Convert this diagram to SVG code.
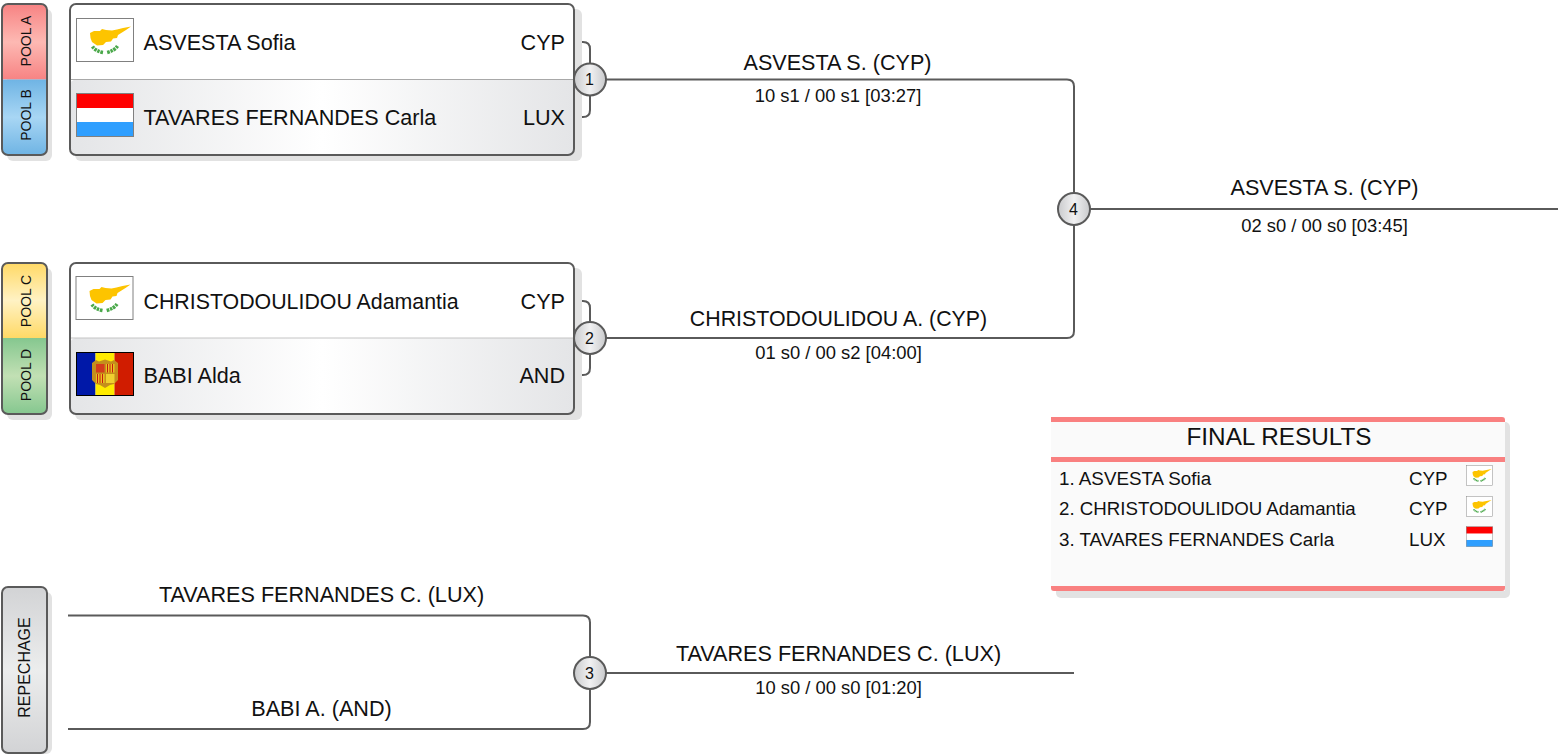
<svg xmlns="http://www.w3.org/2000/svg" xmlns:xlink="http://www.w3.org/1999/xlink" width="1558" height="754" viewBox="0 0 1558 754">
<style>
text{font-family:"Liberation Sans",Arial,sans-serif;fill:#111}
.n{font-size:21.600px}
.s{font-size:18.400px;text-anchor:middle}
.l{font-size:21.600px;text-anchor:middle}
.ch{font-size:21.350px}
.r{font-size:18.800px}
.t{font-size:14px;text-anchor:middle}
.b{font-size:16px;text-anchor:middle}
.v{font-size:16px;text-anchor:middle}
.sh{fill:#e2e2e2}
.o{fill:none;stroke:#5a5a5a;stroke-width:2}
.c{fill:none;stroke:#5a5a5a;stroke-width:2}
.f{fill:none;stroke:#808080;stroke-width:1}
</style>
<defs>
<linearGradient id="ga" x1="0" y1="0" x2="0" y2="1"><stop offset="0" stop-color="#f78383"/><stop offset=".5" stop-color="#fdb9b3"/><stop offset="1" stop-color="#f78383"/></linearGradient>
<linearGradient id="gb" x1="0" y1="0" x2="0" y2="1"><stop offset="0" stop-color="#6fb4e4"/><stop offset=".5" stop-color="#a8d6f4"/><stop offset="1" stop-color="#6fb4e4"/></linearGradient>
<linearGradient id="gc" x1="0" y1="0" x2="0" y2="1"><stop offset="0" stop-color="#ffd966"/><stop offset=".5" stop-color="#fff2c4"/><stop offset="1" stop-color="#ffd966"/></linearGradient>
<linearGradient id="gd" x1="0" y1="0" x2="0" y2="1"><stop offset="0" stop-color="#85c78f"/><stop offset=".5" stop-color="#c2e0b4"/><stop offset="1" stop-color="#85c78f"/></linearGradient>
<linearGradient id="gr" x1="0" y1="0" x2="0" y2="1"><stop offset="0" stop-color="#d2d3d5"/><stop offset=".5" stop-color="#eceded"/><stop offset="1" stop-color="#d2d3d5"/></linearGradient>
<linearGradient id="gl" x1="0" y1="0" x2="1" y2="0"><stop offset="0" stop-color="#e4e5e7"/><stop offset=".5" stop-color="#ffffff"/><stop offset="1" stop-color="#e4e5e7"/></linearGradient>
<linearGradient id="gk" x1="0" y1="0" x2="1" y2="0"><stop offset="0" stop-color="#c9cacc"/><stop offset=".5" stop-color="#f1f1f2"/><stop offset="1" stop-color="#c9cacc"/></linearGradient>
<g id="cy">
<rect x="0.500" y="0.500" width="57" height="43" fill="#fff" stroke="#808080"/>
<path d="M14 15L18 13L24 13L26 11L30 12L36 12.500L41 11.500L47 10L55 8.500L50 12L46 14.500L42 17L41 20L37 20.500L35 23.500L30 24L27 27L21 27.500L16 24L14.500 20Z" fill="#fdc400"/>
<path d="M16.500 28.500c1.500 2.500 5 5 10.500 6M41.500 28c-1.500 2.500-5 5-10.500 6.500" fill="none" stroke="#4aa84a" stroke-width="3.500" stroke-dasharray="2.500 .8"/>
</g>
<g id="lu">
<rect x="0" y="0" width="58" height="44" fill="#fff"/>
<rect x="0.500" y="0.500" width="57" height="14.500" fill="#ff0000"/>
<rect x="0.500" y="29" width="57" height="14.500" fill="#2f9fff"/>
<rect x="0.500" y="0.500" width="57" height="43" class="f"/>
</g>
<g id="ad">
<rect x="0.500" y="0.500" width="19" height="43" fill="#0018a8"/>
<rect x="19.500" y="0.500" width="19" height="43" fill="#ffeb00"/>
<rect x="38.500" y="0.500" width="19" height="43" fill="#d01c00"/>
<path d="M16 11l4-3 3 1.500 6-2 6 2 3-1.500 4 3v17l-4 4-4 1-5 3-5-3-4-1-4-4z" fill="#c48f1c"/>
<rect x="20" y="12" width="8.500" height="8.500" fill="#d43c1c"/>
<rect x="30" y="12" width="8.500" height="8.500" fill="#ecc020"/>
<path d="M31.500 12v8.500M34 12v8.500M36.500 12v8.500" stroke="#c41c10" fill="none"/>
<rect x="20" y="22" width="8.500" height="9" fill="#ecc020"/>
<path d="M21.500 22v9M24 22v9M26.500 22v9" stroke="#c41c10" fill="none"/>
<rect x="30" y="22" width="8.500" height="9" fill="#f0d030"/>
<rect x="0.500" y="0.500" width="57" height="43" fill="none" stroke="#000"/>
</g>
</defs>

<g id="connectors">
<path class="c" d="M574 42h9q7 0 7 7v61q0 7-7 7h-9"/>
<path class="c" d="M590 79.500H1067q7 0 7 7V331q0 7-7 7H590"/>
<path class="c" d="M574 301h9q7 0 7 7v60q0 7-7 7h-9"/>
<path class="c" d="M1074 209H1558"/>
<path class="c" d="M68 615.500H583q7 0 7 7V722q0 7-7 7H68"/>
<path class="c" d="M590 673H1074"/>
</g>

<g id="pool-ab">
<rect class="sh" x="7" y="9" width="45" height="152" rx="6"/>
<path d="M2.500 79.500V10.500q0-6 6-6H41q6 0 6 6V79.500z" fill="url(#ga)"/>
<path d="M2.500 79.500V149q0 6 6 6H41q6 0 6-6V79.500z" fill="url(#gb)"/>
<rect class="o" x="2" y="4" width="45" height="151" rx="6"/>
<text class="t" transform="translate(31 41) rotate(-90)">POOL A</text>
<text class="t" transform="translate(31 115) rotate(-90)">POOL B</text>
</g>
<g id="match-1">
<rect class="sh" x="75" y="9" width="507" height="152" rx="6"/>
<rect x="70" y="4" width="504" height="75.500" fill="#fff"/>
<rect x="70" y="79.500" width="504" height="75.500" rx="6" fill="url(#gl)"/>
<path d="M70 79.500h504" stroke="#a8a8a8"/>
<rect class="o" x="70" y="4" width="504" height="151" rx="6"/>
<use xlink:href="#cy" href="#cy" x="76" y="18"/>
<use xlink:href="#lu" href="#lu" x="76" y="93"/>
<text class="n" x="143.500" y="49.500">ASVESTA Sofia</text>
<text class="n" x="143.500" y="124.500">TAVARES FERNANDES Carla</text>
<text class="n" x="565" y="49.500" text-anchor="end">CYP</text>
<text class="n" x="565" y="124.500" text-anchor="end">LUX</text>
</g>
<g id="pool-cd">
<rect class="sh" x="7" y="268" width="45" height="152" rx="6"/>
<path d="M2.500 338V269q0-6 6-6H41q6 0 6 6V338z" fill="url(#gc)"/>
<path d="M2.500 338V408q0 6 6 6H41q6 0 6-6V338z" fill="url(#gd)"/>
<rect class="o" x="2" y="263" width="45" height="151" rx="6"/>
<text class="t" transform="translate(31 301) rotate(-90)">POOL C</text>
<text class="t" transform="translate(31 375) rotate(-90)">POOL D</text>
</g>
<g id="match-2">
<rect class="sh" x="75" y="268" width="507" height="152" rx="6"/>
<rect x="70" y="263" width="504" height="75" fill="#fff"/>
<rect x="70" y="338" width="504" height="76" rx="6" fill="url(#gl)"/>
<path d="M70 338h504" stroke="#c4c4c4"/>
<rect class="o" x="70" y="263" width="504" height="151" rx="6"/>
<use xlink:href="#cy" href="#cy" x="75.500" y="276"/>
<use xlink:href="#ad" href="#ad" x="76" y="352"/>
<text class="n ch" x="143.500" y="308.500">CHRISTODOULIDOU Adamantia</text>
<text class="n" x="143.500" y="382.500">BABI Alda</text>
<text class="n" x="565" y="308.500" text-anchor="end">CYP</text>
<text class="n" x="565" y="382.500" text-anchor="end">AND</text>
</g>
<g id="repechage">
<rect class="sh" x="7" y="592" width="45" height="162" rx="6"/>
<rect x="2" y="587" width="45" height="166" rx="6" fill="url(#gr)" stroke="#5a5a5a" stroke-width="2"/>
<text class="v" transform="translate(30 667.500) rotate(-90)">REPECHAGE</text>
</g>

<g id="bout-1"><circle cx="590" cy="79.500" r="16" fill="url(#gk)" stroke="#5a5a5a" stroke-width="2"/><text class="b" x="589.500" y="85">1</text></g>
<g id="bout-2"><circle cx="590" cy="338" r="16" fill="url(#gk)" stroke="#5a5a5a" stroke-width="2"/><text class="b" x="589.500" y="343.500">2</text></g>
<g id="bout-3"><circle cx="590" cy="673" r="16" fill="url(#gk)" stroke="#5a5a5a" stroke-width="2"/><text class="b" x="589.500" y="678.500">3</text></g>
<g id="bout-4"><circle cx="1074" cy="209" r="16" fill="url(#gk)" stroke="#5a5a5a" stroke-width="2"/><text class="b" x="1073.500" y="214.500">4</text></g>

<g id="labels">
<text class="l" x="837.500" y="70">ASVESTA S. (CYP)</text>
<text class="s" x="838" y="102">10 s1 / 00 s1 [03:27]</text>
<text class="l ch" x="838.500" y="326">CHRISTODOULIDOU A. (CYP)</text>
<text class="s" x="838.500" y="359">01 s0 / 00 s2 [04:00]</text>
<text class="l" x="1324.500" y="195">ASVESTA S. (CYP)</text>
<text class="s" x="1324.500" y="232">02 s0 / 00 s0 [03:45]</text>
<text class="l" x="321.500" y="602">TAVARES FERNANDES C. (LUX)</text>
<text class="l" x="321.500" y="716">BABI A. (AND)</text>
<text class="l" x="838.500" y="661">TAVARES FERNANDES C. (LUX)</text>
<text class="s" x="838.500" y="694">10 s0 / 00 s0 [01:20]</text>
</g>

<g id="final-results">
<rect class="sh" x="1056" y="422" width="454" height="176" rx="5"/>
<rect x="1051" y="417" width="454" height="174" fill="#fafafa"/>
<path d="M1051 417h451q3 0 3 3v2h-454zM1051 457h454v5h-454zM1051 586h454v2q0 3-3 3H1054q-3 0-3-3z" fill="#f98080"/>
<text x="1279" y="445" font-size="24.300" text-anchor="middle">FINAL RESULTS</text>
<text class="r" x="1059" y="485">1. ASVESTA Sofia</text>
<text class="r" x="1059" y="515" style="font-size:18.700px">2. CHRISTODOULIDOU Adamantia</text>
<text class="r" x="1059" y="546">3. TAVARES FERNANDES Carla</text>
<text class="r" x="1409" y="485">CYP</text>
<text class="r" x="1409" y="515">CYP</text>
<text class="r" x="1409" y="546">LUX</text>
<use xlink:href="#cy" href="#cy" transform="translate(1466 465) scale(.465)"/>
<use xlink:href="#cy" href="#cy" transform="translate(1466 496) scale(.465)"/>
<use xlink:href="#lu" href="#lu" transform="translate(1466 526.500) scale(.465)"/>
</g>
</svg>
